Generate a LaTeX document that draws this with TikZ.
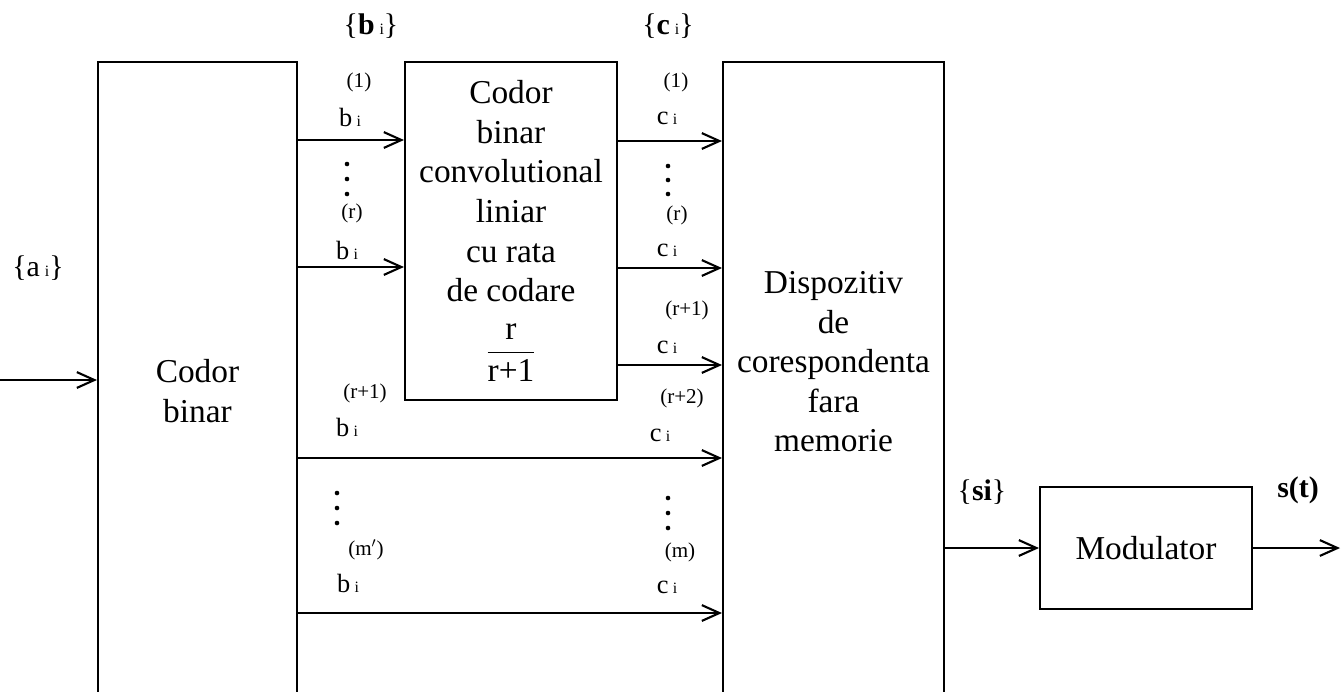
\documentclass[tikz,border=0pt]{standalone}
\usepackage{amsmath}
\usepackage{fontspec}
\setmainfont{Liberation Serif}
\usetikzlibrary{arrows.meta, positioning}
\tikzset{
  block/.style = {rectangle, draw, line width=1.2pt, align=center,
                  font=\fontsize{19}{22.5}\selectfont},
  arrow/.style = {line width=1.2pt, -{Straight Barb[length=10pt,width=9pt]}},
  idx/.style   = {font=\fontsize{12}{12}\selectfont, inner sep=0pt},
  sym/.style   = {font=\fontsize{15}{15}\selectfont, inner sep=0pt},
  seq/.style   = {font=\fontsize{17}{17}\selectfont, inner sep=0pt}
}
\newcommand{\symi}[1]{#1\,{\fontsize{9}{9}\selectfont i}}

\begin{document}
\begin{tikzpicture}[x=0.02cm, y=-0.02cm]
  \clip (0,0) rectangle (1341,691);

  % Blocks
  \node (cb)   [block, minimum width=3.98cm, minimum height=13.16cm] at (197.5,391) {Codor\\binar};
  \node (enc)  [block, minimum width=4.24cm, minimum height=6.76cm] at (511,231)
        {Codor\\binar\\convolutional\\liniar\\cu rata\\de codare\\[11pt]$\dfrac{\text{r}}{\text{r+1}}$};
  \node (disp) [block, minimum width=4.42cm, minimum height=13.16cm] at (833.5,391) {};
  \node (disptxt) [align=center, font=\fontsize{19}{22.5}\selectfont] at (833.5,362)
        {Dispozitiv\\de\\corespondenta\\fara\\memorie};
  \node (mod)  [block, minimum width=4.24cm, minimum height=2.44cm] at (1146,548) {Modulator};

  % Row levels
  \coordinate (in)  at (0,380);
  \coordinate (yb1) at (0,140);
  \coordinate (ybr) at (0,267);
  \coordinate (yc1) at (0,141);
  \coordinate (ycr) at (0,268);
  \coordinate (ycq) at (0,365);
  \coordinate (yd1) at (0,458);
  \coordinate (yd2) at (0,613);
  \coordinate (out) at (1340,548);

  % Sequence labels
  \node (aseq) [seq] at (38,268)   {\{\symi{a}\}};
  \node (bseq) [seq] at (371,26)   {\{\symi{\textbf{b}}\}};
  \node (cseq) [seq] at (668,26)   {\{\symi{\textbf{c}}\}};
  \node (sseq) [seq] at (982,492)  {\{\textbf{si}\}};
  \node (st)   [seq] at (1298,490) {\textbf{s(t)}};

  % Bit labels, input side
  \node (b1i)  [idx] at (359,82)  {(1)};
  \node (b1)   [sym] at (350,117) {\symi{b}};
  \node (bri)  [idx] at (352,213) {(r)};
  \node (br)   [sym] at (347,250) {\symi{b}};
  \node (bqi)  [idx] at (365,393) {(r+1)};
  \node (bq)   [sym] at (347,427) {\symi{b}};
  \node (bmi)  [idx] at (366,550) {(m$'$)};
  \node (bm)   [sym] at (348,583) {\symi{b}};

  % Bit labels, output side
  \node (c1i)  [idx] at (676,82)  {(1)};
  \node (c1)   [sym] at (667,118) {\symi{c}};
  \node (cri)  [idx] at (677,215) {(r)};
  \node (cr)   [sym] at (667,250) {\symi{c}};
  \node (cqi)  [idx] at (687,310) {(r+1)};
  \node (cq)   [sym] at (667,347) {\symi{c}};
  \node (cpi)  [idx] at (682,398) {(r+2)};
  \node (cp)   [sym] at (660,435) {\symi{c}};
  \node (cmi)  [idx] at (680,552) {(m)};
  \node (cm)   [sym] at (667,587) {\symi{c}};

  % Vertical dots
  \foreach \x/\y in {347/164, 347/179, 347/194, 668/166, 668/180, 668/194,
                     337/493, 337/508, 337/523, 668/498, 668/513, 668/528}
    \fill (\x,\y) circle (2.3);

  % Arrows
  \draw[arrow] (in) -- (cb.west |- in);
  \draw[arrow] (cb.east |- yb1) -- (enc.west |- yb1);
  \draw[arrow] (cb.east |- ybr) -- (enc.west |- ybr);
  \draw[arrow] (enc.east |- yc1) -- (disp.west |- yc1);
  \draw[arrow] (enc.east |- ycr) -- (disp.west |- ycr);
  \draw[arrow] (enc.east |- ycq) -- (disp.west |- ycq);
  \draw[arrow] (cb.east |- yd1) -- (disp.west |- yd1);
  \draw[arrow] (cb.east |- yd2) -- (disp.west |- yd2);
  \draw[arrow] (disp.east |- mod.west) -- (mod.west);
  \draw[arrow] (mod.east) -- (out);
\end{tikzpicture}
\end{document}
